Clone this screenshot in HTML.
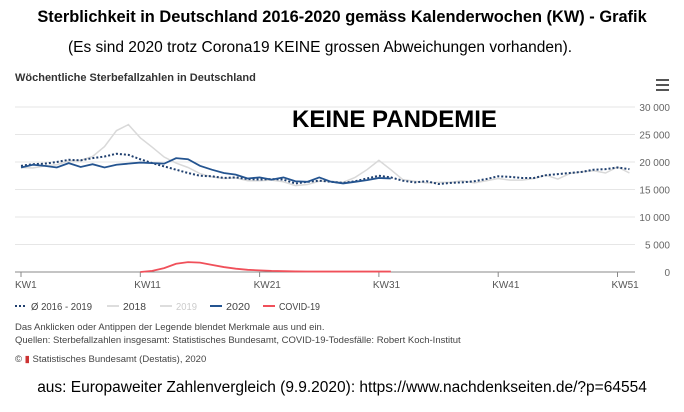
<!DOCTYPE html>
<html><head><meta charset="utf-8"><style>
body{margin:0;width:684px;height:412px;background:#fff;font-family:"Liberation Sans",sans-serif;overflow:hidden;position:relative}
.t{position:absolute;white-space:nowrap}
</style></head><body>
<div class="t" style="left:0;width:684px;text-align:center;top:8px;font-size:16.4px;font-weight:bold;color:#000">Sterblichkeit in Deutschland 2016-2020 gemäss Kalenderwochen (KW) - Grafik</div>
<div class="t" style="left:68px;top:39px;font-size:15.5px;color:#000">(Es sind 2020 trotz Corona19 KEINE grossen Abweichungen vorhanden).</div>
<div class="t" style="left:15px;top:72px;font-size:11px;font-weight:bold;color:#333">Wöchentliche Sterbefallzahlen in Deutschland</div>
<svg id="c" width="684" height="412" style="position:absolute;left:0;top:0" font-family="Liberation Sans, sans-serif"></svg>
<div class="t" style="left:292px;top:106px;font-size:24px;font-weight:bold;color:#000">KEINE PANDEMIE</div>
<div class="t" style="left:15px;top:322px;font-size:9.5px;color:#444">Das Anklicken oder Antippen der Legende blendet Merkmale aus und ein.</div>
<div class="t" style="left:15px;top:335px;font-size:9.5px;color:#444">Quellen: Sterbefallzahlen insgesamt: Statistisches Bundesamt, COVID-19-Todesfälle: Robert Koch-Institut</div>
<div class="t" style="left:15px;top:354px;font-size:9.5px;color:#444">© <span style="color:#c33">▮</span> Statistisches Bundesamt (Destatis), 2020</div>
<div class="t" style="left:0;width:684px;text-align:center;top:379px;font-size:15.5px;color:#000">aus: Europaweiter Zahlenvergleich (9.9.2020): https://www.nachdenkseiten.de/?p=64554</div>
<script>
const s=document.getElementById('c');let h='';
const X=w=>21+(w-1)*11.93, Y=v=>272-v/30000*165;
[0,5000,10000,15000,20000,25000,30000].forEach(v=>{const y=Y(v);
if(v>0)h+=`<line x1="15" x2="635" y1="${y}" y2="${y}" stroke="#e6e6e6"/>`;
h+=`<text x="670" y="${y+4}" text-anchor="end" font-size="10" fill="#666">${v?v.toLocaleString('en').replace(',',' '):'0'}</text>`;});
h+=`<line x1="15" x2="635" y1="272" y2="272" stroke="#888"/>`;
[1,11,21,31,41,51].forEach(w=>{h+=`<line x1="${X(w)}" x2="${X(w)}" y1="272" y2="277" stroke="#888"/><text x="${X(w)-6}" y="288" font-size="10" fill="#555">KW${w}</text>`;});
const pl=(a,st,sw,da,o=1)=>{h+=`<polyline fill="none" stroke="${st}" stroke-width="${sw}" ${da?'stroke-dasharray="'+da+'"':''} points="${a.map((v,i)=>X(i+o)+','+Y(v)).join(' ')}"/>`};
const g18=[19000,18900,19300,19500,20200,20300,21000,22800,25700,26800,24400,22700,20900,19800,19000,17900,17300,17000,17100,16600,16600,16700,16400,15700,15900,16500,16500,16300,17200,18600,20300,18600,16800,16500,16200,16300,16300,16600,16200,16600,17000,16700,16700,17000,17600,16900,17900,18200,18400,18000,19100,18000];
const avg=[19300,19600,19700,20000,20400,20300,20700,21000,21500,21300,20500,19800,19200,18600,18000,17500,17400,17100,17200,16900,16800,16900,16800,16100,16400,16600,16400,16200,16500,17000,17500,17200,16600,16300,16500,16000,16200,16300,16500,16900,17400,17300,17100,17100,17600,17800,18000,18200,18600,18700,19000,18700];
const y20=[19000,19500,19300,19000,19800,19100,19600,19000,19500,19700,19900,19800,19700,20700,20500,19300,18600,18000,17700,17000,17200,16800,17200,16500,16400,17200,16400,16100,16400,16700,17100,17000];
const cov=[0,200,700,1500,1800,1700,1300,900,600,400,300,200,150,100,90,80,80,80,80,80,80,80];
pl(g18,'#d9d9d9',1.5);pl(avg,'#1f3f6e',2,'2,2');pl(y20,'#245490',1.8);pl(cov,'#f0505a',1.8,null,11);
h+=`<rect x="656" y="79" width="13" height="2" fill="#555"/><rect x="656" y="84" width="13" height="2" fill="#555"/><rect x="656" y="89" width="13" height="2" fill="#555"/>`;
const lg=[[15,'#1f3f6e','2,2','Ø 2016 - 2019','#444',61],[107,'#ddd','','2018','#444',23],[160,'#ddd','','2019','#ccc',21],[210,'#245490','','2020','#444',24],[263,'#f0505a','','COVID-19','#444',41]];
lg.forEach(([x,c,d,t,tc,tl])=>{h+=`<line x1="${x}" x2="${x+12}" y1="306" y2="306" stroke="${c}" stroke-width="2" ${d?'stroke-dasharray="'+d+'"':''}/><text x="${x+16}" y="310" font-size="10" fill="${tc}" textLength="${tl}" lengthAdjust="spacingAndGlyphs">${t}</text>`;});
s.innerHTML=h;
</script>
</body></html>
